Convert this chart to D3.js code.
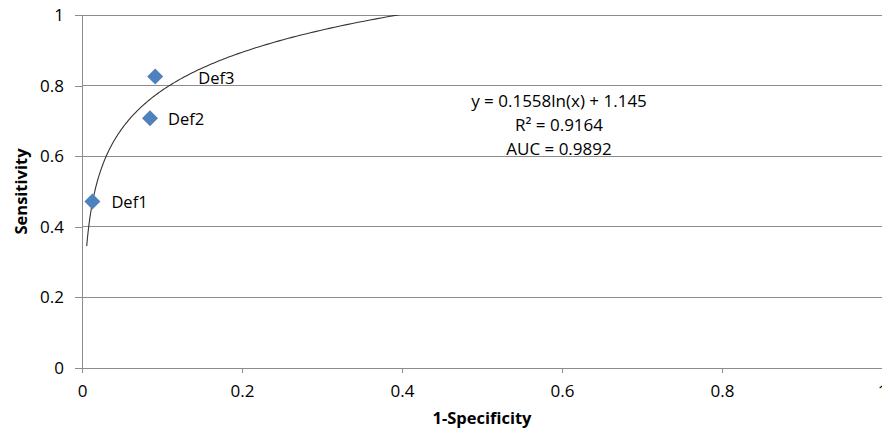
<!DOCTYPE html>
<html><head><meta charset="utf-8">
<script src="https://cdn.jsdelivr.net/npm/d3@7"></script>
<style>body{margin:0;background:#fff}svg{display:block}</style>
</head><body>
<svg id="chart" width="882" height="429"></svg>
<script>
// data
const pointLabels = ["Def1", "Def2", "Def3"];
const pointX = [0.013, 0.085, 0.0915];
const pointY = [0.4715, 0.7075, 0.8255];
const xTicks = [0, 0.2, 0.4, 0.6, 0.8, 1];
const yTicks = [0, 0.2, 0.4, 0.6, 0.8, 1];
const trendA = 0.1558, trendB = 1.145; // y = a ln(x) + b
const trendRange = [0.0059, 0.4];
const annotation = ["y = 0.1558ln(x) + 1.145", "R² = 0.9164", "AUC = 0.9892"];

const svg = d3.select("#chart");
const m = {l: 82, r: 0, t: 15, b: 61};
const W = 882, H = 429;
const x = d3.scaleLinear().domain([0, 1]).range([m.l, W - m.r]);
const y = d3.scaleLinear().domain([0, 1]).range([H - m.b, m.t]);
const font = "'Open Sans', 'Liberation Sans', sans-serif";
const axisColor = "#8c8c8c";

// gridlines
svg.append("g").selectAll("line").data(yTicks.filter(d => d > 0)).join("line")
  .attr("x1", x(0)).attr("x2", x(1))
  .attr("y1", d => y(d)).attr("y2", d => y(d))
  .attr("stroke", axisColor).attr("stroke-width", 1).attr("shape-rendering", "crispEdges");

// axes
const xAxis = svg.append("g").attr("transform", `translate(0,${y(0)})`)
  .call(d3.axisBottom(x).tickValues(xTicks).tickSize(5).tickPadding(12).tickFormat(d3.format("")));
const yAxis = svg.append("g").attr("transform", `translate(${x(0)},0)`)
  .call(d3.axisLeft(y).tickValues(yTicks).tickSize(7).tickPadding(11).tickFormat(d3.format("")));
[xAxis, yAxis].forEach(g => {
  g.select(".domain").attr("stroke", axisColor).attr("shape-rendering", "crispEdges");
  g.selectAll(".tick line").attr("stroke", axisColor).attr("shape-rendering", "crispEdges");
  g.selectAll("text").attr("fill", "#000").style("font-family", font).style("font-size", "17px");
});
xAxis.select(".domain").attr("d", `M${x(0)},5V0H${x(1)}`);
yAxis.select(".domain").attr("d", `M-7,${y(1)}H0V${y(0)+5}`);

// axis titles
svg.append("text").attr("x", (x(0) + x(1)) / 2).attr("y", 424)
  .attr("text-anchor", "middle").style("font-family", font).style("font-size", "16.5px")
  .style("font-weight", "bold").text("1-Specificity");
svg.append("text").attr("transform", `translate(27,${(y(0) + y(1)) / 2}) rotate(-90)`)
  .attr("text-anchor", "middle").style("font-family", font).style("font-size", "16.5px")
  .style("font-weight", "bold").text("Sensitivity");

// trendline
svg.append("clipPath").attr("id", "clip").append("rect")
  .attr("x", x(0)).attr("y", y(1)).attr("width", x(1) - x(0)).attr("height", y(0) - y(1));
const trendXs = d3.range(0, 201).map(i => trendRange[0] * Math.pow(trendRange[1] / trendRange[0], i / 200));
const line = d3.line().x(d => x(d)).y(d => y(trendA * Math.log(d) + trendB)).curve(d3.curveLinear);
svg.append("path").attr("d", line(trendXs)).attr("fill", "none")
  .attr("stroke", "#333").attr("stroke-width", 1.1).attr("clip-path", "url(#clip)");

// points
const pts = pointX.map((d, i) => ({x: d, y: pointY[i], label: pointLabels[i]}));
svg.append("g").selectAll("path").data(pts).join("path")
  .attr("transform", d => `translate(${x(d.x)},${y(d.y)})`)
  .attr("d", "M0,-8L8,0L0,8L-8,0Z").attr("fill", "#4f81bd");

const labelOffsets = [[19, 1], [18, 1], [43, 2]];
svg.append("g").selectAll("text").data(pts).join("text")
  .attr("x", (d, i) => x(d.x) + labelOffsets[i][0])
  .attr("y", (d, i) => y(d.y) + labelOffsets[i][1])
  .attr("dy", "0.35em").style("font-family", font).style("font-size", "16.5px").text(d => d.label);

// annotation
svg.append("g").selectAll("text").data(annotation).join("text")
  .attr("x", 559).attr("y", (d, i) => 101 + i * 24)
  .attr("dy", "0.35em")
  .attr("text-anchor", "middle").style("font-family", font).style("font-size", "17px").text(d => d);
</script>
</body></html>
